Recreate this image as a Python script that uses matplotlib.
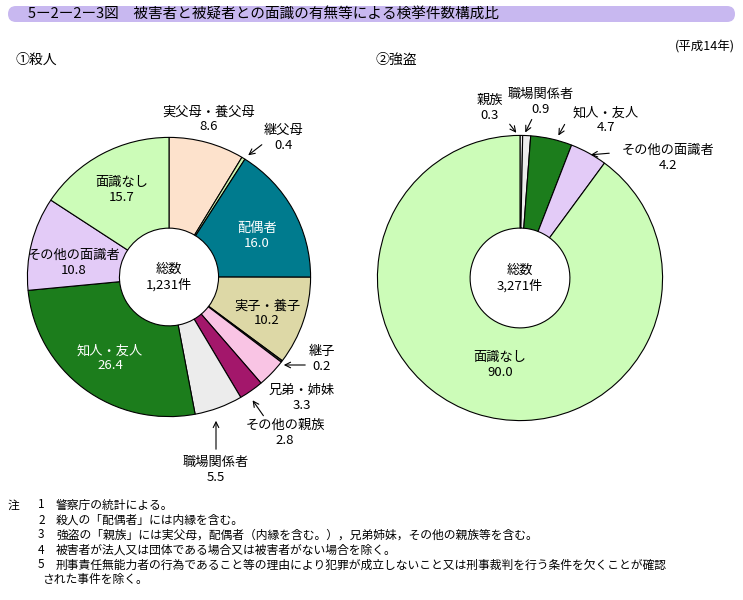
import matplotlib
matplotlib.use("Agg")
import matplotlib.pyplot as plt
from matplotlib.patches import FancyBboxPatch
plt.rcParams['font.family'] = ['Noto Sans CJK JP']

W, H = 743, 600
labels1 = ['実父母・養父母', '継父母', '配偶者', '実子・養子', '継子', '兄弟・姉妹', 'その他の親族', '職場関係者', '知人・友人', 'その他の面識者', '面識なし']
values1 = [8.6, 0.4, 16.0, 10.2, 0.2, 3.3, 2.8, 5.5, 26.4, 10.8, 15.7]
colors1 = ['#fde2cc', '#ccf5b0', '#007b8e', '#ddd8a6', '#404040', '#f9c4e4', '#a3176b', '#ececec', '#1c7d1c', '#e3cbf7', '#ccfcb8']
labels2 = ['親族', '職場関係者', '知人・友人', 'その他の面識者', '面識なし']
values2 = [0.3, 0.9, 4.7, 4.2, 90.0]
colors2 = ['#ececec', '#ececec', '#1c7d1c', '#e3cbf7', '#ccfcb8']
total1 = '総数\n1,231件'
total2 = '総数\n3,271件'

fig = plt.figure(figsize=(W/100, H/100), dpi=100)

def pax(cx, cy, rx, ry):
    return fig.add_axes([(cx-rx)/W, 1-(cy+ry)/H, 2*rx/W, 2*ry/H])

def donut(ax, vals, cols, total):
    ax.pie(vals, colors=cols, startangle=90, counterclock=False, radius=1,
           wedgeprops=dict(width=0.65, edgecolor='black', linewidth=0.8))
    ax.set_aspect('auto'); ax.set_xlim(-1.01, 1.01); ax.set_ylim(-1.01, 1.01)
    ax.text(0, 0, total, ha='center', va='center', fontsize=9.5, linespacing=1.2)

ax1 = pax(169, 277, 143, 141)
donut(ax1, values1, colors1, total1)
ax2 = pax(520, 278, 144, 144)
donut(ax2, values2, colors2, total2)

bg = fig.add_axes([0, 0, 1, 1]); bg.set_xlim(0, W); bg.set_ylim(H, 0); bg.axis('off')
bg.patch.set_alpha(0)
bg.add_patch(FancyBboxPatch((8, 6), 727, 16, boxstyle='round,pad=0,rounding_size=8', fc='#c8b8f0', ec='none'))
bg.text(28, 14, '5ー2ー2ー3図　被害者と被疑者との面識の有無等による検挙件数構成比', fontsize=10.5, va='center')
bg.text(735, 47, '(平成14年)', fontsize=9, ha='right', va='center')
bg.text(16, 60, '①殺人', fontsize=10, va='center')
bg.text(375, 60, '②強盗', fontsize=10, va='center')

def lab(x, y, s, c='black'):
    bg.text(x, y, s, ha='center', va='center', fontsize=9.5, color=c, linespacing=1.15)

fmt = lambda i, L, V: f'{L[i]}\n{V[i]}'
lab(209, 119, fmt(0, labels1, values1))
lab(284, 138, fmt(1, labels1, values1))
lab(257, 236, fmt(2, labels1, values1), 'white')
lab(267, 313, fmt(3, labels1, values1))
lab(322, 359, fmt(4, labels1, values1))
lab(302, 398, fmt(5, labels1, values1))
lab(285, 433, fmt(6, labels1, values1))
lab(216, 470, fmt(7, labels1, values1))
lab(110, 358, fmt(8, labels1, values1), 'white')
lab(74, 263, fmt(9, labels1, values1))
lab(122, 190, fmt(10, labels1, values1))
arr = dict(arrowstyle='->', color='black', lw=0.8)
bg.annotate('', xy=(246, 157), xytext=(264, 143), arrowprops=arr)
bg.annotate('', xy=(281, 365), xytext=(308, 365), arrowprops=arr)
bg.annotate('', xy=(251, 398), xytext=(265, 418), arrowprops=arr)
bg.annotate('', xy=(216, 418), xytext=(216, 452), arrowprops=arr)

lab(490, 108, fmt(0, labels2, values2))
lab(541, 102, fmt(1, labels2, values2))
lab(606, 120, fmt(2, labels2, values2))
lab(668, 158, fmt(3, labels2, values2))
lab(500, 365, fmt(4, labels2, values2))
bg.annotate('', xy=(518, 135), xytext=(508, 122), arrowprops=arr)
bg.annotate('', xy=(524, 135), xytext=(533, 117), arrowprops=arr)
bg.annotate('', xy=(557, 138), xytext=(566, 122), arrowprops=arr)
bg.annotate('', xy=(588, 155), xytext=(612, 153), arrowprops=arr)

notes = ['警察庁の統計による。', '殺人の「配偶者」には内縁を含む。',
         '強盗の「親族」には実父母，配偶者（内縁を含む。），兄弟姉妹，その他の親族等を含む。',
         '被害者が法人又は団体である場合又は被害者がない場合を除く。',
         '刑事責任無能力者の行為であること等の理由により犯罪が成立しないこと又は刑事裁判を行う条件を欠くことが確認']
bg.text(8, 505, '注', fontsize=8.5, va='center')
for i, n in enumerate(notes):
    y = 505 + i*15
    bg.text(38, y, str(i+1), fontsize=8.5, va='center')
    bg.text(56, y, n, fontsize=8.5, va='center')
bg.text(42, 580, 'された事件を除く。', fontsize=8.5, va='center')
fig.savefig('out.png', dpi=100)
